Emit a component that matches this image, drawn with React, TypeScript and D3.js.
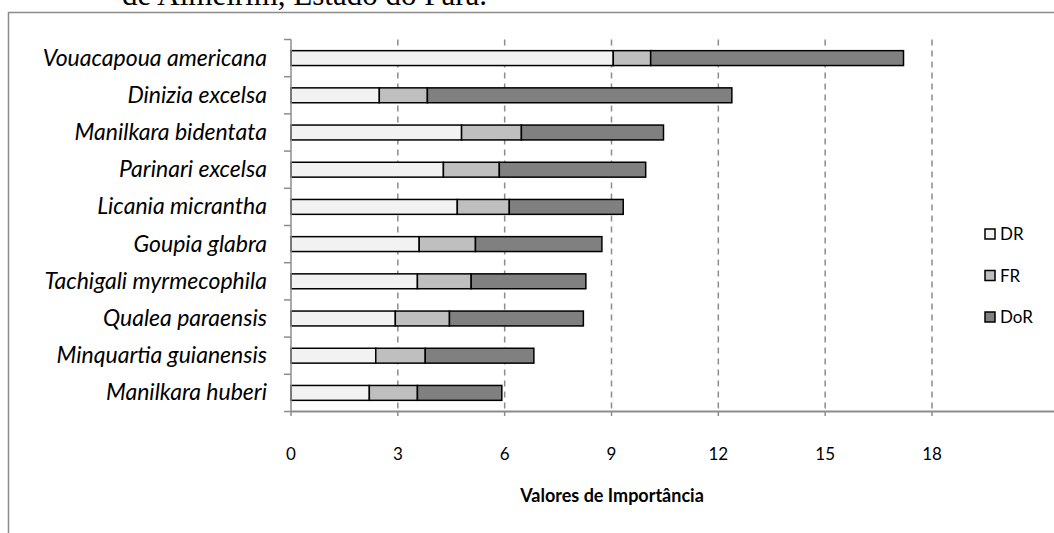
import React from "react";
import * as d3 from "d3";

const species = [
  "Vouacapoua americana",
  "Dinizia excelsa",
  "Manilkara bidentata",
  "Parinari excelsa",
  "Licania micrantha",
  "Goupia glabra",
  "Tachigali myrmecophila",
  "Qualea paraensis",
  "Minquartia guianensis",
  "Manilkara huberi",
];
const DR = [9.05, 2.48, 4.79, 4.28, 4.67, 3.6, 3.55, 2.93, 2.38, 2.2];
const FR = [1.05, 1.35, 1.68, 1.57, 1.46, 1.58, 1.51, 1.52, 1.39, 1.35];
const DoR = [7.1, 8.55, 3.99, 4.11, 3.2, 3.55, 3.22, 3.76, 3.05, 2.37];
const seriesNames = ["DR", "FR", "DoR"];
const seriesColors = ["#f2f2f2", "#bfbfbf", "#808080"];
const xTicks = [0, 3, 6, 9, 12, 15, 18];

export default function App() {
  const W = 1054, H = 533;
  const x = d3.scaleLinear().domain([0, 18]).range([291, 932]);
  const y = d3.scaleBand<string>().domain(species).range([39.5, 411.5]).paddingInner(0.6).paddingOuter(0.3);
  const yOuter = d3.scaleBand<string>().domain(species).range([39.5, 411.5]);
  const rows = species.map((s, i) => ({ s, DR: DR[i], FR: FR[i], DoR: DoR[i] }));
  const stack = d3.stack<any>().keys(seriesNames)(rows);
  const font = "Lato, 'Open Sans', sans-serif";
  return (
    <svg width={W} height={H} style={{ position: "absolute", left: 0, top: 0, background: "#fff" }}>
      <text x={122} y={5} fontFamily="'Liberation Serif', 'DejaVu Serif', serif" fontSize={31}>
        de Almeirim, Estado do Pará.
      </text>
      <rect x={8.5} y={12.5} width={1200} height={700} fill="#fff" stroke="#8c8c8c" strokeWidth={1.5} />
      {/* gridlines */}
      {xTicks.filter((t) => t > 0).map((t) => (
        <line key={t} x1={x(t)} x2={x(t)} y1={39.5} y2={411.5} stroke="#8c8c8c" strokeWidth={1.5} strokeDasharray="6,5" />
      ))}
      {/* bars */}
      {stack.map((layer, k) => (
        <g key={k}>
          {layer.map((d, i) => (
            <rect
              key={i}
              x={x(d[0])}
              y={y(species[i])!}
              width={x(d[1]) - x(d[0])}
              height={y.bandwidth()}
              fill={seriesColors[k]}
              stroke="#000"
              strokeWidth={1.5}
            />
          ))}
        </g>
      ))}
      {/* y axis */}
      <line x1={291} x2={291} y1={39.5} y2={412} stroke="#8c8c8c" strokeWidth={1.5} />
      {species.map((s) => (
        <line key={s} x1={284} x2={291} y1={yOuter(s)!} y2={yOuter(s)!} stroke="#8c8c8c" strokeWidth={1.5} />
      ))}
      <line x1={284} x2={291} y1={411.5} y2={411.5} stroke="#8c8c8c" strokeWidth={1.5} />
      {/* x axis */}
      <line x1={291} x2={W} y1={411.5} y2={411.5} stroke="#8c8c8c" strokeWidth={2} />
      {xTicks.map((t) => (
        <g key={t}>
          <line x1={x(t)} x2={x(t)} y1={411.5} y2={416} stroke="#8c8c8c" strokeWidth={1.5} />
          <text x={x(t)} y={460} textAnchor="middle" fontFamily={font} fontSize={17} fill="#000">
            {t}
          </text>
        </g>
      ))}
      {species.map((s) => (
        <text
          key={s}
          x={267}
          y={y(s)! + y.bandwidth() / 2 + 7.5}
          textAnchor="end"
          fontFamily={font}
          fontStyle="italic"
          fontSize={23}
          fill="#000"
        >
          {s}
        </text>
      ))}
      <text x={612} y={502} textAnchor="middle" fontFamily={font} fontWeight="bold" fontSize={18} fill="#000">
        Valores de Importância
      </text>
      {/* legend */}
      {seriesNames.map((n, i) => (
        <g key={n} transform={`translate(985, ${229 + i * 41.5})`}>
          <rect x={0} y={0} width={10} height={10} fill={seriesColors[i]} stroke="#000" strokeWidth={1.5} />
          <text x={15} y={11} fontFamily={font} fontSize={17} fill="#000">
            {n}
          </text>
        </g>
      ))}
    </svg>
  );
}
